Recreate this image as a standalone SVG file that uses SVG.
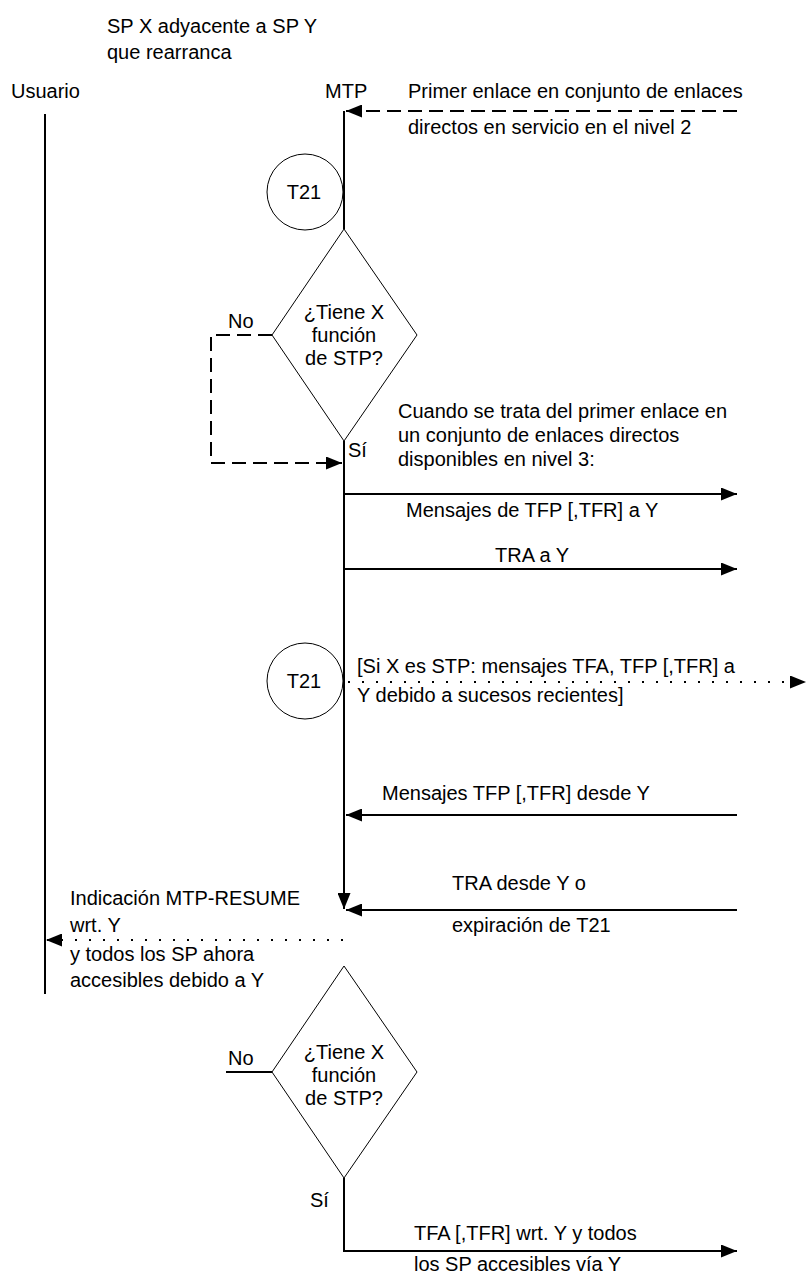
<svg xmlns="http://www.w3.org/2000/svg" width="812" height="1277" viewBox="0 0 812 1277">
<style>
text{font-family:"Liberation Sans",Arial,sans-serif;font-size:20px;fill:#000}
.c{text-anchor:middle}
.ln{stroke:#000;stroke-width:2;fill:none}
.th{stroke:#000;stroke-width:1;fill:#fff}
.dash{stroke:#000;stroke-width:2;fill:none;stroke-dasharray:14 7}
.dot{stroke:#000;stroke-width:2;fill:none;stroke-dasharray:2 12}
</style>
<defs>
<marker id="ah" markerUnits="userSpaceOnUse" markerWidth="17" markerHeight="13" refX="16" refY="6.5" orient="auto">
<path d="M0,0 L16,6.5 L0,13 z" fill="#000"/>
</marker>
</defs>
<g id="labels">
<text x="107" y="33">SP X adyacente a SP Y</text>
<text x="107" y="59">que rearranca</text>
</g>
<g id="usuario">
<text x="11" y="98">Usuario</text>
<line class="ln" x1="45" y1="114" x2="45" y2="994"/>
</g>
<g id="mtp">
<text x="325" y="98">MTP</text>
</g>
<g id="t21a">
<circle class="th" cx="305" cy="192" r="38"/>
<text class="c" x="304" y="199">T21</text>
</g>
<g id="dec1">
<polygon class="th" points="344,229 417,335 344,441 272,335"/>
<text class="c" x="344" y="319">¿Tiene X</text>
<text class="c" x="344" y="342">función</text>
<text class="c" x="344" y="365">de STP?</text>
<text x="228" y="328">No</text>
<text x="348" y="457">Sí</text>
</g>
<g id="t21b">
<circle class="th" cx="305" cy="681" r="38"/>
<text class="c" x="304" y="688">T21</text>
</g>
<g id="dec2">
<polygon class="th" points="344,966 417,1072 344,1178 272,1072"/>
<text class="c" x="344" y="1059">¿Tiene X</text>
<text class="c" x="344" y="1082">función</text>
<text class="c" x="344" y="1105">de STP?</text>
<text x="228" y="1065">No</text>
<text x="310" y="1207">Sí</text>
</g>
<g id="connectors">
<line class="ln" x1="344" y1="111" x2="344" y2="229"/>
<line class="dash" x1="737" y1="111" x2="346" y2="111" marker-end="url(#ah)"/>
<polyline class="dash" points="272,335 211,335 211,463 342,463" marker-end="url(#ah)"/>
<line class="ln" x1="344" y1="441" x2="344" y2="909" marker-end="url(#ah)"/>
<line class="ln" x1="345" y1="494" x2="737" y2="494" marker-end="url(#ah)"/>
<line class="ln" x1="345" y1="569" x2="737" y2="569" marker-end="url(#ah)"/>
<line class="dot" x1="348" y1="682" x2="806" y2="682" marker-end="url(#ah)"/>
<line class="ln" x1="737" y1="815" x2="346" y2="815" marker-end="url(#ah)"/>
<line class="ln" x1="737" y1="910" x2="346" y2="910" marker-end="url(#ah)"/>
<line class="dot" x1="343" y1="940" x2="46" y2="940" marker-end="url(#ah)"/>
<line class="ln" x1="226" y1="1072" x2="272" y2="1072"/>
<polyline class="ln" points="344,1178 344,1251 737,1251" marker-end="url(#ah)"/>
</g>
<g id="msgtexts">
<text x="408" y="98">Primer enlace en conjunto de enlaces</text>
<text x="408" y="134">directos en servicio en el nivel 2</text>
<text x="398" y="418">Cuando se trata del primer enlace en</text>
<text x="398" y="442">un conjunto de enlaces directos</text>
<text x="398" y="466">disponibles en nivel 3:</text>
<text x="406" y="517">Mensajes de TFP [,TFR] a Y</text>
<text x="495" y="562">TRA a Y</text>
<text x="357" y="673">[Si X es STP: mensajes TFA, TFP [,TFR] a</text>
<text x="357" y="702">Y debido a sucesos recientes]</text>
<text x="382" y="800">Mensajes TFP [,TFR] desde Y</text>
<text x="452" y="890">TRA desde Y o</text>
<text x="452" y="932">expiración de T21</text>
<text x="70" y="905">Indicación MTP-RESUME</text>
<text x="70" y="932">wrt. Y</text>
<text x="70" y="961">y todos los SP ahora</text>
<text x="70" y="987">accesibles debido a Y</text>
<text x="414" y="1240">TFA [,TFR] wrt. Y y todos</text>
<text x="414" y="1271">los SP accesibles vía Y</text>
</g>
</svg>
